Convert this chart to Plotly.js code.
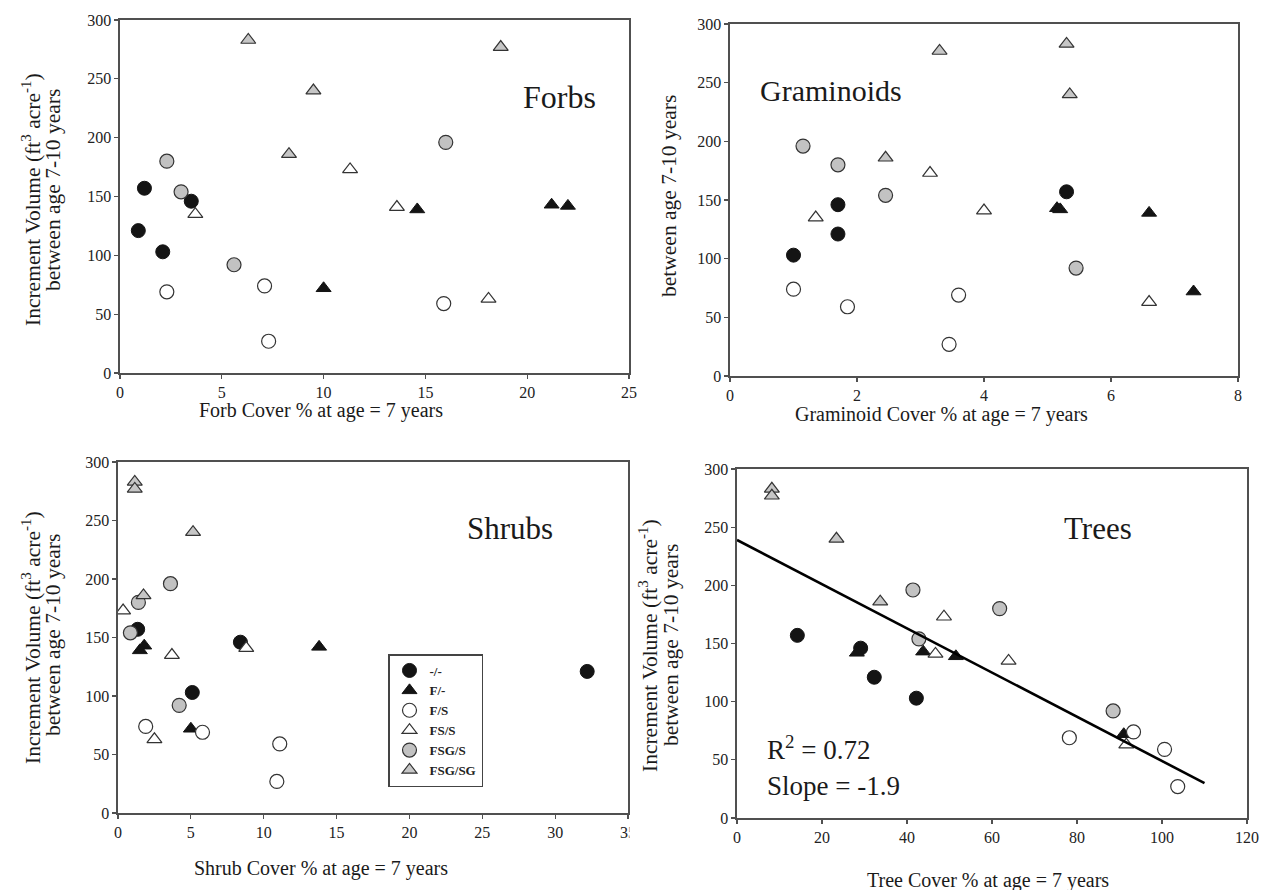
<!DOCTYPE html>
<html>
<head>
<meta charset="utf-8">
<script src="https://cdn.plot.ly/plotly-3.0.1.min.js"></script>
<style>
  html, body { margin: 0; padding: 0; background: #fff; }
  #chart { width: 1262px; height: 890px; }
</style>
</head>
<body>
<div id="chart"></div>
<script>
// Treatment groups, in legend order
const groups = ['-/-', 'F/-', 'F/S', 'FS/S', 'FSG/S', 'FSG/SG'];

// Increment volume (ft3 acre-1) between age 7 and 10 years, four plots per group
const volume = [
  [157, 146, 121, 103],
  [143, 142, 139, 72],
  [74, 69, 59, 27],
  [173, 141, 135, 63],
  [196, 180, 154, 92],
  [283, 277, 240, 186]
];

// Cover % at age 7, same plot order as volume
const forbCover = [
  [1.2, 3.5, 0.9, 2.1],
  [21.2, 22.0, 14.6, 10.0],
  [7.1, 2.3, 15.9, 7.3],
  [11.3, 13.6, 3.7, 18.1],
  [16.0, 2.3, 3.0, 5.6],
  [6.3, 18.7, 9.5, 8.3]
];
const graminoidCover = [
  [5.3, 1.7, 1.7, 1.0],
  [5.15, 5.2, 6.6, 7.3],
  [1.0, 3.6, 1.85, 3.45],
  [3.15, 4.0, 1.35, 6.6],
  [1.15, 1.7, 2.45, 5.45],
  [5.3, 3.3, 5.35, 2.45]
];
const shrubCover = [
  [1.35, 8.4, 32.2, 5.1],
  [1.8, 13.8, 1.5, 5.0],
  [1.9, 5.8, 11.1, 10.9],
  [0.35, 8.8, 3.7, 2.5],
  [3.6, 1.4, 0.85, 4.2],
  [1.15, 1.15, 5.15, 1.75]
];
const treeCover = [
  [14.2, 29.1, 32.3, 42.2],
  [43.8, 28.2, 51.5, 91.0],
  [93.3, 78.2, 100.6, 103.7],
  [48.7, 46.7, 63.9, 91.6],
  [41.4, 61.8, 42.8, 88.5],
  [8.2, 8.2, 23.4, 33.7]
];

// Linear fit of volume on tree cover
const treeFitSlope = -1.9;
const treeFitIntercept = 239;
const treeFitR2 = 0.72;
const treeFitRange = [0, 110];

const panelNames = ['Forbs', 'Graminoids', 'Shrubs', 'Trees'];
const coverTitles = [
  'Forb Cover % at age = 7 years',
  'Graminoid Cover % at age = 7 years',
  'Shrub Cover % at age = 7 years',
  'Tree Cover % at age = 7 years'
];

// ---------------------------------------------------------------------------
const W = 1262, H = 890;
const FONT = 'Liberation Serif, Times New Roman, serif';
const fx = p => p / W;
const fy = p => 1 - p / H;

const markerStyles = [
  { symbol: 'circle', size: 14, color: '#141414', line: { color: '#141414', width: 1 } },
  { symbol: 'triangle-up', size: 13, color: '#141414', line: { color: '#141414', width: 1 } },
  { symbol: 'circle', size: 14, color: '#ffffff', line: { color: '#333333', width: 1.2 } },
  { symbol: 'triangle-up', size: 13, color: '#ffffff', line: { color: '#333333', width: 1.2 } },
  { symbol: 'circle', size: 14, color: '#c2c2c2', line: { color: '#333333', width: 1.2 } },
  { symbol: 'triangle-up', size: 13, color: '#c6c6c6', line: { color: '#333333', width: 1.2 } }
];

const panels = [
  { cover: forbCover, xa: 'x', ya: 'y' },
  { cover: graminoidCover, xa: 'x2', ya: 'y2' },
  { cover: shrubCover, xa: 'x3', ya: 'y3', legend: true },
  { cover: treeCover, xa: 'x4', ya: 'y4' }
];

const traces = [];
panels.forEach(p => {
  groups.forEach((g, i) => {
    traces.push({
      type: 'scatter',
      mode: 'markers',
      name: g,
      x: p.cover[i],
      y: volume[i],
      xaxis: p.xa,
      yaxis: p.ya,
      marker: markerStyles[i],
      showlegend: !!p.legend,
      hoverinfo: 'x+y+name'
    });
  });
});

// Regression line on the tree panel
traces.push({
  type: 'scatter',
  mode: 'lines',
  x: treeFitRange,
  y: treeFitRange.map(v => treeFitIntercept + treeFitSlope * v),
  xaxis: 'x4',
  yaxis: 'y4',
  line: { color: '#000', width: 2.6 },
  showlegend: false,
  hoverinfo: 'skip'
});

function axisBase() {
  return {
    showline: true,
    linecolor: '#505050',
    linewidth: 1.6,
    mirror: true,
    ticks: 'outside',
    ticklen: 4,
    tickwidth: 1.2,
    tickcolor: '#505050',
    showgrid: false,
    zeroline: false,
    tickfont: { family: FONT, size: 16, color: '#222' }
  };
}

function xAxis(domain, range, dtick, anchor) {
  return Object.assign(axisBase(), {
    domain: [fx(domain[0]), fx(domain[1])], range: range, dtick: dtick, anchor: anchor
  });
}
function yAxis(domain, anchor) {
  return Object.assign(axisBase(), {
    domain: [fy(domain[1]), fy(domain[0])], range: [0, 300], dtick: 50, anchor: anchor
  });
}

const annotations = [];
function label(text, x, y, size, opts) {
  annotations.push(Object.assign({
    text: text, xref: 'paper', yref: 'paper', x: fx(x), y: fy(y),
    xanchor: 'center', yanchor: 'middle', showarrow: false,
    font: { family: FONT, size: size, color: '#1a1a1a' }
  }, opts || {}));
}

// Panel names
label(panelNames[0], 559, 97, 32);
label(panelNames[1], 831, 90, 30);
label(panelNames[2], 510, 528, 31);
label(panelNames[3], 1098, 528, 31);

// Cover axis titles
label(coverTitles[0], 321, 410, 20);
label(coverTitles[1], 941, 414, 20);
label(coverTitles[2], 321, 868, 20);
label(coverTitles[3], 988, 880, 20);

// Volume axis titles (two lines each)
const volLine1 = 'Increment Volume (ft<sup>3</sup> acre<sup>-1</sup>)';
const volLine2 = 'between age 7-10 years';
const rot = { textangle: -90 };
label(volLine1, 31, 200, 21.5, rot);
label(volLine2, 53, 190, 21.5, rot);
label(volLine2, 669, 196, 21.5, rot);
label(volLine1, 31, 638, 21.5, rot);
label(volLine2, 53, 635, 21.5, rot);
label(volLine1, 648, 645, 21.5, rot);
label(volLine2, 671, 645, 21.5, rot);

// Fit statistics
label('R<sup>2</sup> = ' + treeFitR2.toFixed(2), 765, 748, 27, { xanchor: 'left' });
label('Slope = ' + treeFitSlope.toFixed(1), 765, 786, 27, { xanchor: 'left' });

const layout = {
  width: W,
  height: H,
  margin: { l: 0, r: 0, t: 0, b: 0 },
  font: { family: FONT, size: 16, color: '#222' },
  paper_bgcolor: '#fff',
  plot_bgcolor: '#fff',
  showlegend: true,
  xaxis: xAxis([120, 629], [0, 25], 5, 'y'),
  yaxis: yAxis([20, 373], 'x'),
  xaxis2: xAxis([730, 1238], [0, 8], 2, 'y2'),
  yaxis2: yAxis([24, 376], 'x2'),
  xaxis3: xAxis([118, 628], [0, 35], 5, 'y3'),
  yaxis3: yAxis([462, 813], 'x3'),
  xaxis4: xAxis([737, 1247], [0, 120], 20, 'y4'),
  yaxis4: yAxis([469, 818], 'x4'),
  legend: {
    x: fx(388), y: fy(654), xanchor: 'left', yanchor: 'top',
    bgcolor: '#fff', bordercolor: '#444', borderwidth: 1.5,
    font: { family: FONT, size: 13, color: '#222', weight: 'bold' },
    tracegroupgap: 0, itemwidth: 30
  },
  // the shrub panel is trimmed just past its right border
  shapes: [{
    type: 'rect', xref: 'paper', yref: 'paper', layer: 'above',
    x0: fx(629.5), x1: fx(640), y0: fy(845), y1: fy(816),
    fillcolor: '#fff', line: { width: 0 }
  }],
  annotations: annotations
};

Plotly.newPlot('chart', traces, layout, { staticPlot: true, displayModeBar: false });
</script>
</body>
</html>
